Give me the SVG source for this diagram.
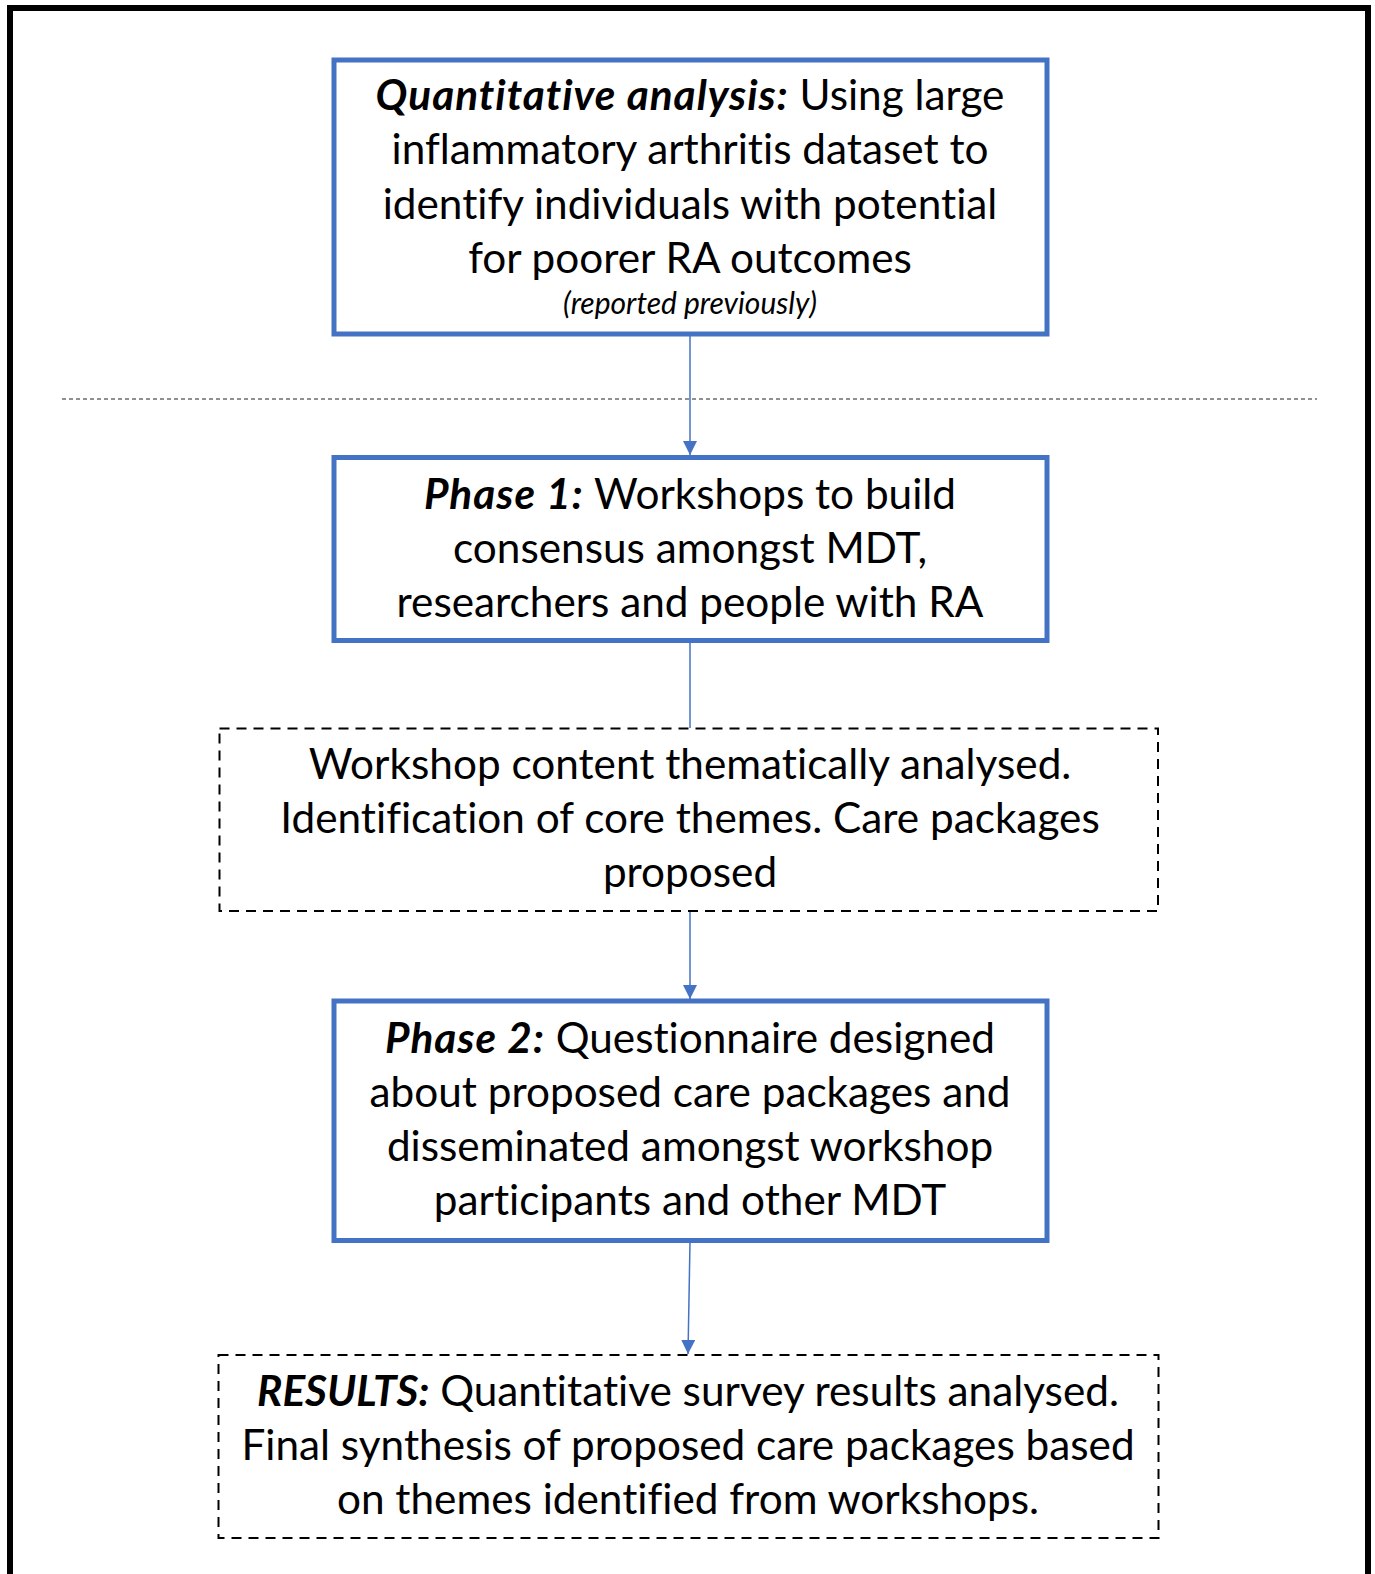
<svg xmlns="http://www.w3.org/2000/svg" width="1375" height="1574" viewBox="0 0 1375 1574">
<style>
.t{font-family:Lato,"Liberation Sans",sans-serif;font-size:42.3px;fill:#000;text-anchor:middle;font-variant-ligatures:none}
.bi{font-weight:bold;font-style:italic;letter-spacing:1px}
.sm{font-size:30px;font-style:italic}
.box{fill:#fff;stroke:#4472C4;stroke-width:5}
.dbox{fill:#fff;stroke:#000;stroke-width:2;stroke-dasharray:10 7}
.conn{stroke:#4472C4;stroke-width:1.5;fill:none}
</style>
<defs>
<marker id="ah" markerWidth="14" markerHeight="14" refX="14" refY="7" orient="auto" markerUnits="userSpaceOnUse">
<path d="M0,0 L14,7 L0,14 Z" fill="#4472C4"/>
</marker>
</defs>
<rect x="0" y="0" width="1375" height="1574" fill="#fff"/>
<path d="M10,1580 V8 H1368 V1580" fill="none" stroke="#000" stroke-width="6"/>
<line x1="62" y1="399" x2="1317" y2="399" stroke="#222" stroke-width="1.2" stroke-dasharray="4 3"/>
<g id="connectors">
<line class="conn" x1="690" y1="336" x2="690" y2="455" marker-end="url(#ah)"/>
<line class="conn" x1="690" y1="642" x2="690" y2="728"/>
<line class="conn" x1="690" y1="912" x2="690" y2="999" marker-end="url(#ah)"/>
<line class="conn" x1="690" y1="1242" x2="688" y2="1354" marker-end="url(#ah)"/>
</g>
<g id="quant">
<rect class="box" x="334" y="60" width="713" height="274"/>
<text class="t" x="690" y="110"><tspan class="bi">Quantitative analysis:</tspan> Using large</text>
<text class="t" x="690" y="164">inflammatory arthritis dataset to</text>
<text class="t" x="690" y="219">identify individuals with potential</text>
<text class="t" x="690" y="273">for poorer RA outcomes</text>
<text class="t sm" x="690" y="314">(reported previously)</text>
</g>
<g id="phase1">
<rect class="box" x="334" y="457.5" width="713" height="183"/>
<text class="t" x="690" y="509"><tspan class="bi">Phase 1:</tspan> Workshops to build</text>
<text class="t" x="690" y="563">consensus amongst MDT,</text>
<text class="t" x="690" y="617">researchers and people with RA</text>
</g>
<g id="thematic">
<rect class="dbox" x="219.5" y="728.5" width="938.5" height="182.5"/>
<text class="t" x="690" y="779">Workshop content thematically analysed.</text>
<text class="t" x="690" y="833">Identification of core themes. Care packages</text>
<text class="t" x="690" y="887">proposed</text>
</g>
<g id="phase2">
<rect class="box" x="334" y="1001" width="713" height="239.5"/>
<text class="t" x="690" y="1053"><tspan class="bi">Phase 2:</tspan> Questionnaire designed</text>
<text class="t" x="690" y="1107">about proposed care packages and</text>
<text class="t" x="690" y="1161">disseminated amongst workshop</text>
<text class="t" x="690" y="1215">participants and other MDT</text>
</g>
<g id="results">
<rect class="dbox" x="218.5" y="1355" width="940" height="183"/>
<text class="t" x="688" y="1406"><tspan class="bi" style="letter-spacing:0">RESULTS:</tspan> Quantitative survey results analysed.</text>
<text class="t" x="688" y="1460">Final synthesis of proposed care packages based</text>
<text class="t" x="688" y="1514">on themes identified from workshops.</text>
</g>
</svg>
